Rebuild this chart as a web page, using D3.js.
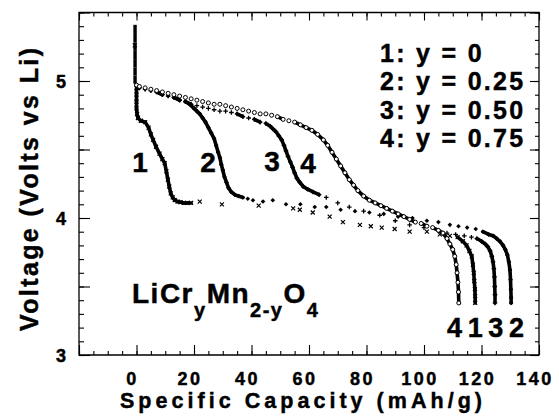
<!DOCTYPE html>
<html>
<head>
<meta charset="utf-8">
<script src="https://cdn.jsdelivr.net/npm/d3@7"></script>
<style>
  html, body { margin: 0; padding: 0; background: #fff; }
  svg { display: block; }
  text { font-family: "Liberation Sans", Arial, Helvetica, sans-serif; font-weight: bold; fill: #000; stroke: #000; stroke-width: 0.45px; }
</style>
</head>
<body>
<svg id="chart" width="559" height="417"></svg>
<script>
// Discharge curves of LiCr_yMn_(2-y)O_4 cells: [capacity (mAh/g), voltage (V vs Li)]
const startStack = [[-0.5, 5.41], [-0.5, 5.35], [-0.5, 5.28], [-0.5, 5.22], [-0.5, 5.16], [-0.5, 5.10], [-0.5, 5.04], [-0.5, 4.98]];

const curve1 = [[-0.6, 5.26], [0, 4.95], [0, 4.90], [0, 4.85], [0, 4.80], [0.2, 4.76], [0.5, 4.73], [1.5, 4.71],
  [3, 4.70], [4.2, 4.66], [5, 4.61], [5.8, 4.57], [6.8, 4.52], [8, 4.47], [9, 4.43], [9.8, 4.40], [10.4, 4.34],
  [10.9, 4.28], [11.4, 4.23], [11.9, 4.18], [12.6, 4.15], [13.3, 4.13], [14.3, 4.12], [15.3, 4.115],
  [16.5, 4.11], [17.7, 4.11], [19, 4.11], [22, 4.12], [29.7, 4.10], [42.5, 4.09], [54.5, 4.07], [56.8, 4.06],
  [61.3, 4.04], [67.2, 4.01], [71.8, 3.97], [77.7, 3.95], [81.5, 3.94], [85.3, 3.93], [89.8, 3.92], [95, 3.90],
  [101, 3.90], [105.5, 3.88], [109, 3.87], [111.7, 3.86], [113.5, 3.83], [114.8, 3.80], [115.8, 3.76],
  [116.6, 3.72], [117, 3.66], [117.3, 3.60], [117.5, 3.54], [117.7, 3.48], [117.8, 3.43], [117.8, 3.38]];

const curve2 = [[0, 4.97], [1, 4.95], [3, 4.94], [5, 4.93], [7, 4.92], [9, 4.90], [11, 4.89], [13, 4.88], [15, 4.86],
  [17, 4.85], [18.5, 4.83], [20, 4.80], [21, 4.78], [22, 4.76], [23, 4.73], [24, 4.70], [25, 4.66], [26, 4.62],
  [27, 4.58], [27.7, 4.53], [28.4, 4.48], [29, 4.44], [29.5, 4.39], [30, 4.35], [30.6, 4.30], [31.3, 4.26],
  [32, 4.22], [33, 4.19], [34.2, 4.17], [35.5, 4.16], [37, 4.15], [38.7, 4.14], [40.5, 4.13], [44, 4.12],
  [47.4, 4.13], [52, 4.10], [57, 4.10], [62, 4.08], [66, 4.08], [71, 4.06], [76, 4.05], [81, 4.04], [86, 4.03],
  [91, 4.01], [96, 4.00], [101, 3.98], [105, 3.97], [109, 3.95], [112, 3.94], [115, 3.93], [118, 3.92],
  [120.5, 3.90], [122.5, 3.88], [124, 3.87], [125.3, 3.85], [126.4, 3.83], [127.5, 3.80], [128.3, 3.77],
  [129, 3.73], [129.5, 3.68], [129.9, 3.62], [130.1, 3.55], [130.2, 3.48], [130.3, 3.42], [130.3, 3.38]];

const curve3 = [[0, 4.97], [1, 4.95], [3, 4.94], [5, 4.93], [7, 4.92], [9, 4.90], [11, 4.89], [13, 4.88], [15, 4.86],
  [17, 4.85], [19, 4.83], [21, 4.82], [23, 4.81], [25, 4.80], [27, 4.79], [29, 4.78], [31, 4.78], [33, 4.77],
  [35, 4.76], [37, 4.74], [39, 4.73], [41, 4.72], [43, 4.70], [45, 4.69], [46.5, 4.67], [47.5, 4.65],
  [48.5, 4.63], [49.5, 4.60], [50.5, 4.57], [51.3, 4.53], [52, 4.49], [52.7, 4.45], [53.5, 4.41], [54.3, 4.37],
  [55, 4.33], [55.8, 4.29], [56.8, 4.26], [58, 4.23], [59.5, 4.21], [61.4, 4.19], [63.5, 4.17], [66, 4.15],
  [70, 4.11], [74, 4.08], [79, 4.05], [84.6, 4.02], [90, 3.98], [95, 3.95], [100, 3.93], [105, 3.91],
  [108, 3.89], [111, 3.88], [114, 3.87], [116.5, 3.86], [118.4, 3.85], [120, 3.83], [121.3, 3.81],
  [122.2, 3.79], [123, 3.76], [123.6, 3.72], [124, 3.68], [124.3, 3.63], [124.5, 3.57], [124.6, 3.50],
  [124.7, 3.44], [124.7, 3.38]];

const curve4 = [[0, 4.97], [1, 4.96], [3, 4.95], [5, 4.94], [7, 4.93], [9, 4.92], [11, 4.91], [13, 4.90], [15, 4.89],
  [17, 4.88], [19, 4.87], [21, 4.86], [23, 4.85], [25, 4.84], [27, 4.83], [29, 4.83], [31, 4.82], [33, 4.81],
  [35, 4.80], [37, 4.79], [39, 4.78], [41, 4.77], [43, 4.76], [45, 4.76], [47, 4.75], [49, 4.74], [51, 4.72],
  [53, 4.71], [55, 4.70], [57, 4.68], [59, 4.66], [61, 4.64], [63, 4.61], [65, 4.57], [66.5, 4.53], [68, 4.48],
  [69.5, 4.43], [71, 4.38], [72.5, 4.33], [74, 4.28], [75.5, 4.24], [77, 4.20], [79, 4.16], [81, 4.13],
  [83, 4.11], [85, 4.09], [87, 4.07], [89, 4.05], [91, 4.03], [93, 4.01], [95, 3.99], [97, 3.97], [99, 3.96],
  [101, 3.94], [103, 3.93], [105, 3.91], [106.6, 3.89], [108, 3.85], [109, 3.81], [110, 3.77], [110.7, 3.72],
  [111.2, 3.66], [111.5, 3.60], [111.8, 3.53], [112, 3.46], [112.1, 3.38]];

const seriesNames = ["1", "2", "3", "4"];
const seriesData = [curve1, curve2, curve3, curve4];
const legendLines = ["1: y = 0", "2: y = 0.25", "3: y = 0.50", "4: y = 0.75"];

const xMajor = [0, 20, 40, 60, 80, 100, 120, 140];
const yMajorLabels = [3, 4, 5];

const svg = d3.select("#chart");
const x = d3.scaleLinear().domain([-20, 140]).range([79, 539]);
const y = d3.scaleLinear().domain([3, 5.5]).range([355, 12.5]);

// frame and ticks
const xMinor = d3.range(-20, 140.01, 5);
const xMaj = d3.range(-20, 140.01, 20);
const yMinor = d3.range(3, 5.501, 0.1);
const yMaj = d3.range(3, 5.501, 0.5);

function tickAxis(axisFn, scale, values, size, transform) {
  const g = svg.append("g").attr("transform", transform)
    .call(axisFn(scale).tickValues(values).tickSize(size).tickSizeOuter(0).tickFormat(""));
  g.select(".domain").remove();
  g.selectAll("line").attr("stroke", "#000").attr("stroke-width", 1.1);
  return g;
}
tickAxis(d3.axisBottom, x, xMinor, -4, "translate(0,355)");
tickAxis(d3.axisBottom, x, xMaj, -10, "translate(0,355)");
tickAxis(d3.axisTop, x, xMinor, -4, "translate(0,12.5)");
tickAxis(d3.axisTop, x, xMaj, -8, "translate(0,12.5)");
tickAxis(d3.axisLeft, y, yMinor, -5, "translate(79,0)");
tickAxis(d3.axisLeft, y, yMaj, -11, "translate(79,0)");
tickAxis(d3.axisRight, y, yMinor, -4, "translate(539,0)");
tickAxis(d3.axisRight, y, yMaj, -9, "translate(539,0)");

svg.append("path")
  .attr("d", `M79,12.5V355H539V12.5Z`)
  .attr("fill", "none").attr("stroke", "#000").attr("stroke-width", 1.3);

// tick labels
svg.append("g").selectAll("text").data(xMajor).join("text")
  .attr("x", d => x(d) - 4).attr("y", 384.5)
  .attr("text-anchor", "middle").attr("font-size", 18).attr("letter-spacing", 2.5)
  .text(d => d);
svg.append("g").selectAll("text").data(yMajorLabels).join("text")
  .attr("x", 66).attr("y", d => y(d) + 6.5)
  .attr("text-anchor", "end").attr("font-size", 18)
  .text(d => d);

// axis titles
svg.append("text").attr("x", 120).attr("y", 408)
  .attr("font-size", 21.5).attr("textLength", 362).attr("lengthAdjust", "spacing")
  .text("Specific Capacity (mAh/g)");
svg.append("text").attr("transform", "translate(38,331) rotate(-90)")
  .attr("font-size", 25).attr("textLength", 283).attr("lengthAdjust", "spacing")
  .text("Voltage (Volts vs Li)");

// markers
const markerDraw = [
  // 1: crosses
  (g, pts) => g.selectAll("path").data(pts).join("path")
    .attr("d", d => `M${x(d[0]) - 2},${y(d[1]) - 2}l4,4m-4,0l4,-4`)
    .attr("stroke", "#000").attr("stroke-width", 1.2).attr("fill", "none"),
  // 2: small diamonds
  (g, pts) => g.selectAll("path").data(pts).join("path")
    .attr("d", d => `M${x(d[0])},${y(d[1]) - 2.3}l2.3,2.3l-2.3,2.3l-2.3,-2.3z`)
    .attr("fill", "#000"),
  // 3: plus signs
  (g, pts) => g.selectAll("path").data(pts).join("path")
    .attr("d", d => `M${x(d[0]) - 2.3},${y(d[1])}h4.6m-2.3,-2.3v4.6`)
    .attr("stroke", "#000").attr("stroke-width", 1.3).attr("fill", "none"),
  // 4: open circles
  (g, pts) => g.selectAll("circle").data(pts).join("circle")
    .attr("cx", d => x(d[0])).attr("cy", d => y(d[1])).attr("r", 2)
    .attr("fill", "#fff").attr("stroke", "#000").attr("stroke-width", 1)
];

// steep stretches are recorded densely, so their points merge into a solid trace
function denseSegments(pts) {
  const segs = [];
  for (let i = 1; i < pts.length; i++) {
    const x0 = x(pts[i - 1][0]), y0 = y(pts[i - 1][1]);
    const x1 = x(pts[i][0]), y1 = y(pts[i][1]);
    const dx = Math.abs(x1 - x0), dy = Math.abs(y1 - y0), dist = Math.hypot(dx, dy);
    const steep = dy > dx && dist < 25;
    const sloped = dy > 0.4 * dx && dist < 9;
    if (steep || sloped || dist < 5) segs.push([[x0, y0], [x1, y1]]);
  }
  return segs;
}

const plot = svg.append("g");
plot.append("g").selectAll("path").data(startStack.slice(0, -1)).join("path")
  .attr("d", (d, i) => `M${x(d[0])},${y(d[1])}L${x(startStack[i + 1][0])},${y(startStack[i + 1][1])}`)
  .attr("stroke", "#000").attr("stroke-width", 3.4);

seriesData.forEach((pts, k) => {
  const g = plot.append("g");
  g.append("g").selectAll("path").data(denseSegments(pts)).join("path")
    .attr("d", s => `M${s[0][0]},${s[0][1]}L${s[1][0]},${s[1][1]}`)
    .attr("stroke", "#000").attr("stroke-width", 3.6).attr("stroke-linecap", "round");
  markerDraw[k](g.append("g"), pts);
});

// curve labels
const upperLabels = [[140, 172], [208, 172], [272, 171], [308, 173]];
svg.append("g").selectAll("text").data(seriesNames).join("text")
  .attr("x", (d, i) => upperLabels[i][0]).attr("y", (d, i) => upperLabels[i][1])
  .attr("text-anchor", "middle").attr("font-size", 28)
  .text(d => d);
svg.append("text").attr("x", 447).attr("y", 337).attr("font-size", 27)
  .attr("textLength", 77).attr("lengthAdjust", "spacing")
  .text("4132");

// legend
svg.append("g").selectAll("text").data(legendLines).join("text")
  .attr("x", 380).attr("y", (d, i) => 62 + i * 28.3)
  .attr("font-size", 25).attr("letter-spacing", 2.3)
  .text(d => d);

// formula
const f = svg.append("text").attr("x", 132).attr("y", 303).attr("font-size", 28).attr("letter-spacing", 1.5);
f.append("tspan").text("LiCr");
f.append("tspan").attr("font-size", 20).attr("dy", 14).text("y");
f.append("tspan").attr("dy", -14).text("Mn");
f.append("tspan").attr("font-size", 20).attr("dy", 14).text("2-y");
f.append("tspan").attr("dy", -14).text("O");
f.append("tspan").attr("font-size", 20).attr("dy", 14).text("4");
</script>
</body>
</html>
